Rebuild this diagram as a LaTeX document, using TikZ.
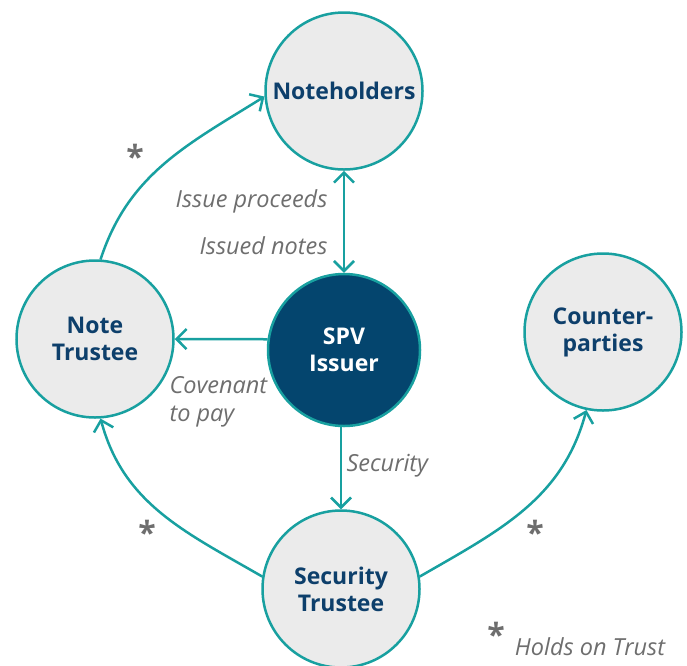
\documentclass[tikz,border=0pt]{standalone}
\usepackage{fontspec}
\setmainfont{Open Sans}
\usetikzlibrary{arrows.meta}

\definecolor{trustteal}{RGB}{24,160,160}
\definecolor{partyblue}{RGB}{13,63,107}
\definecolor{spvblue}{RGB}{4,69,110}
\definecolor{partygray}{RGB}{235,235,235}
\definecolor{notegray}{RGB}{110,110,110}

\begin{document}
\begin{tikzpicture}[x=1pt,y=-1pt,
    party/.style={circle,draw=trustteal,line width=2.5pt,fill=partygray,
      minimum size=157pt,inner sep=0pt,align=center,text=partyblue,
      font=\fontsize{23}{27}\selectfont\bfseries},
    flow/.style={draw=trustteal,line width=2.5pt,
      -{Straight Barb[length=10pt,width=20pt]}},
    twoway/.style={flow,{Straight Barb[length=10pt,width=20pt]}-{Straight Barb[length=10pt,width=20pt]}},
    note/.style={text=notegray,font=\fontsize{23.5}{28}\selectfont\itshape},
    star/.style={text=notegray,font=\fontsize{32}{32}\selectfont\bfseries}]

      % fix the frame of the picture
      \useasboundingbox (0,0) rectangle (687,665);

      % the parties
      \node[party] (holders) at (344,91) {Noteholders};
      \node[party] (notetr) at (95,339) {Note\\Trustee};
      \node[party,fill=spvblue,text=white,minimum size=152pt] (spv) at (344,350) {SPV\\Issuer};
      \node[party] (counter) at (603,332) {Counter-\\parties};
      \node[party] (sectr) at (341,589) {Security\\Trustee};

      % straight flows from the issuer
      \draw[twoway] (holders) -- (spv);
      \draw[flow] (spv.172) -- (notetr.east);
      \draw[flow] (spv.south-|sectr) -- (sectr);

      % trust arcs
      \draw[flow] (notetr.86) to[out=72,in=212] (holders.184);
      \draw[flow] (sectr.171) to[out=150,in=-75] (notetr.-86);
      \draw[flow] (sectr.9) to[out=30,in=-105] (counter.-102);

      % flow labels
      \node[note,anchor=east] (proceeds) at (331,201) {Issue proceeds};
      \node[note,anchor=east] (issued) at (331,246) {Issued notes};
      \node[note,anchor=west,align=left] (covenant) at (166,402) {Covenant\\to pay};
      \node[note,anchor=west] (security) at (343,466) {Security};

      % trust marks
      \node[star] (star1) at (135,156) {*};
      \node[star] (star2) at (147,532) {*};
      \node[star] (star3) at (535,532) {*};
      \node[star] (star4) at (496,634) {*};
      \node[note] (legend) at (590,647) {Holds on Trust};
    \end{tikzpicture}
\end{document}
